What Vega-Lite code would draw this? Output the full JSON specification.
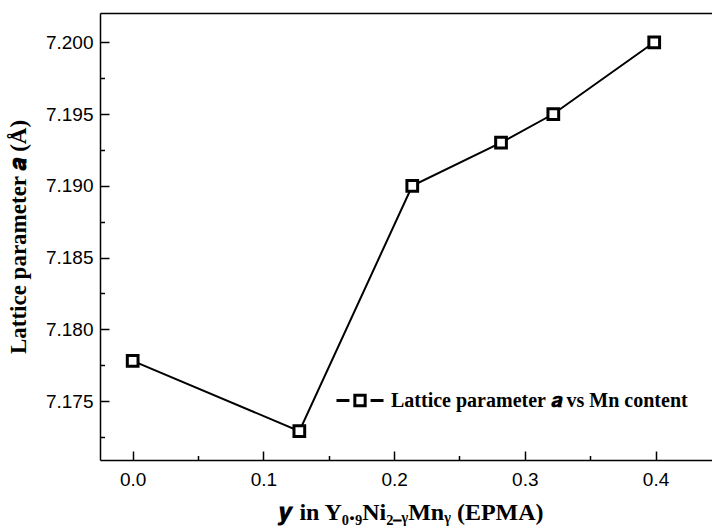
{
  "$schema": "https://vega.github.io/schema/vega-lite/v6.json",
  "width": 612,
  "height": 447,
  "autosize": {"type": "none"},
  "padding": {"left": 100, "top": 13, "right": 0, "bottom": 71},
  "background": "white",
  "config": {
    "view": {"stroke": null},
    "axis": {
      "grid": false,
      "domainColor": "black",
      "domainWidth": 1.5,
      "tickColor": "black",
      "tickWidth": 1.5,
      "labelColor": "black",
      "labelFont": "Liberation Sans",
      "labelFontSize": 19,
      "labelFontWeight": "normal",
      "titleColor": "black",
      "titleFont": "Liberation Serif",
      "titleFontWeight": "bold",
      "titleFontSize": 22
    }
  },
  "data": {
    "values": [
      {"content": 0.0, "a": 7.1778},
      {"content": 0.1275, "a": 7.1729},
      {"content": 0.2139, "a": 7.1900},
      {"content": 0.2818, "a": 7.1930},
      {"content": 0.3218, "a": 7.1950},
      {"content": 0.3990, "a": 7.2000}
    ]
  },
  "layer": [
    {
      "mark": {"type": "line", "color": "black", "strokeWidth": 2},
      "encoding": {
        "x": {
          "field": "content", "type": "quantitative",
          "scale": {"domain": [-0.025, 0.4432], "nice": false, "zero": false},
          "axis": {
            "orient": "bottom",
            "values": [0, 0.1, 0.2, 0.3, 0.4],
            "format": ".1f",
            "tickSize": -9,
            "labelPadding": 19,
            "title": "𝒚 in Y₀.₉Ni₂₋ᵧMnᵧ (EPMA)",
            "titleFontSize": 24,
            "titleX": 310.5,
            "titleY": 59,
            "titleBaseline": "alphabetic"
          }
        },
        "y": {
          "field": "a", "type": "quantitative",
          "scale": {"domain": [7.17089, 7.20204], "nice": false, "zero": false},
          "axis": {
            "orient": "left",
            "values": [7.175, 7.18, 7.185, 7.19, 7.195, 7.2],
            "format": ".3f",
            "tickSize": -9,
            "labelPadding": 16,
            "title": "Lattice parameter 𝒂 (Å)",
            "titleFontSize": 23,
            "titleX": -81.5,
            "titleY": 223.5,
            "titleAngle": -90,
            "titleAlign": "center",
            "titleBaseline": "middle"
          }
        }
      }
    },
    {
      "mark": {"type": "point", "shape": "square", "filled": false, "fill": "white", "fillOpacity": 1, "size": 115, "strokeWidth": 3, "opacity": 1},
      "encoding": {
        "x": {
          "field": "content", "type": "quantitative",
          "axis": {
            "orient": "bottom",
            "values": [0.05, 0.15, 0.25, 0.35],
            "labels": false,
            "domain": false,
            "tickSize": -4.5,
            "title": null
          }
        },
        "y": {
          "field": "a", "type": "quantitative",
          "axis": {
            "orient": "left",
            "values": [7.1725, 7.1775, 7.1825, 7.1875, 7.1925, 7.1975],
            "labels": false,
            "domain": false,
            "tickSize": -4.5,
            "title": null
          }
        },
        "color": {
          "datum": "Lattice parameter 𝒂 vs Mn content",
          "scale": {"range": ["black"]},
          "legend": {
            "title": null,
            "orient": "none",
            "legendX": 235,
            "legendY": 362.5,
            "padding": 0,
            "symbolType": "M-1,0H-0.45M0.45,0H1M-0.22,-0.22H0.22V0.22H-0.22Z",
            "symbolSize": 2209,
            "symbolStrokeWidth": 3,
            "symbolStrokeColor": "black",
            "symbolFillColor": "white",
            "labelFont": "Liberation Serif",
            "labelFontWeight": "bold",
            "labelFontSize": 20,
            "labelColor": "black",
            "labelOffset": 6,
            "labelLimit": 500,
            "encode": {
              "symbols": {
                "update": {
                  "shape": {"value": "M-1,0H-0.45M0.45,0H1M-0.22,-0.22H0.22V0.22H-0.22Z"},
                  "stroke": {"value": "black"},
                  "fill": {"value": "white"},
                  "strokeWidth": {"value": 3},
                  "opacity": {"value": 1}
                }
              }
            }
          }
        }
      }
    },
    {
      "mark": {"type": "point", "opacity": 0},
      "encoding": {
        "x": {
          "field": "content", "type": "quantitative",
          "axis": {
            "orient": "top",
            "labels": false,
            "ticks": false,
            "domain": true,
            "title": null
          }
        },
        "y": {
          "field": "a", "type": "quantitative",
          "axis": null
        }
      }
    }
  ],
  "resolve": {"axis": {"x": "independent", "y": "independent"}}
}
